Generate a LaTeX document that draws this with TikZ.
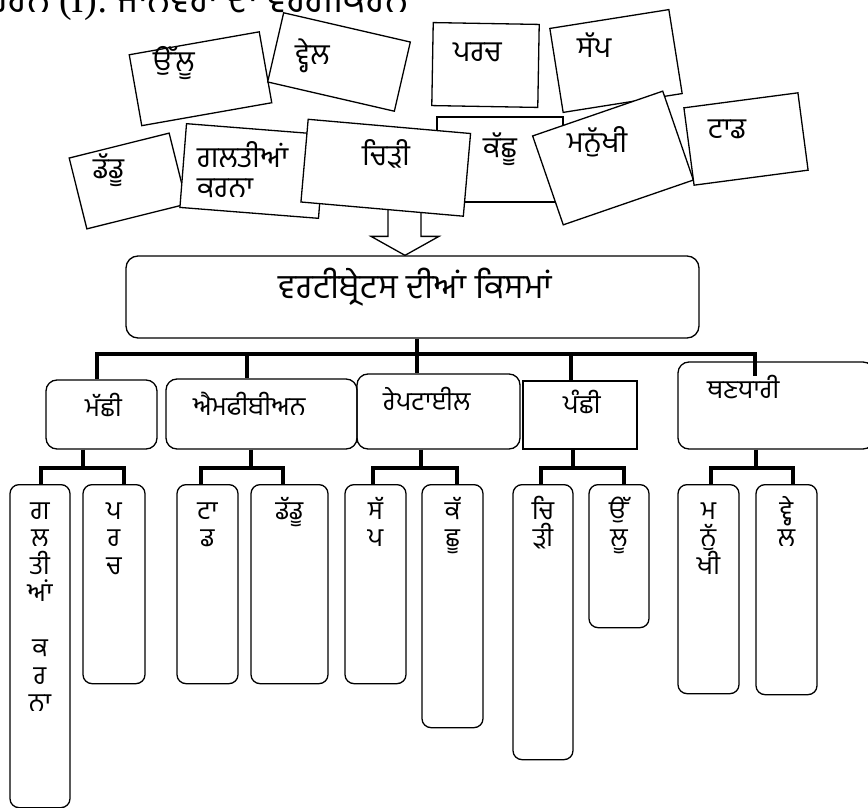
\documentclass[tikz,border=0pt]{standalone}
\usepackage{fontspec}
\setmainfont{Liberation Serif}
\newfontfamily\gurmukhi[Script=Gurmukhi]{Hind Jalandhar}
\usetikzlibrary{calc}

\tikzset{
  card/.style={draw, fill=white, line width=1.3pt, inner sep=0pt, outer sep=0pt},
  word/.style={font=\gurmukhi\fontsize{29}{30}\selectfont, inner sep=0pt, align=left, anchor=base west},
  kind/.style={draw, rounded corners=11pt, line width=1.3pt, inner sep=0pt},
  kindword/.style={word, font=\gurmukhi\fontsize{26}{30}\selectfont},
  leaf/.style={draw, rounded corners=9pt, line width=1.3pt, inner sep=0pt, anchor=north},
  spell/.style={font=\gurmukhi\fontsize{26}{28}\selectfont, inner sep=0pt, anchor=base},
  link/.style={line width=3.5pt},
}

\begin{document}
\begin{tikzpicture}[x=1pt, y=-1pt]
\useasboundingbox (0,0) rectangle (868,808);

% title (cut by the top edge)
\node[anchor=base east, inner sep=0pt, font=\gurmukhi\fontsize{38}{44}\selectfont] (title) at (408,13)
  {ਉਦਾਹਰਨ {\rmfamily (I):} ਜਾਨਵਰਾਂ ਦਾ ਵਰਗੀਕਰਨ};

% main box and block arrow
\node[kind, rounded corners=12pt, minimum width=573pt, minimum height=82pt] (main) at (412.5,297) {};
\node[word, anchor=base, font=\gurmukhi\fontsize{34}{38}\selectfont] (maintext) at (415.5,298) {ਵਰਟੀਬ੍ਰੇਟਸ ਦੀਆਂ ਕਿਸਮਾਂ};
\coordinate (tip) at (main.north -| 405,0);
\draw[line width=1.3pt, fill=white] (tip) -- ++(-34,-19) -- ++(17,0) -- ++(0,-40) -- ++(33,0)
  -- ++(0,40) -- ++(18,0) -- cycle;

% scattered cards
\node[card, rotate=10, minimum width=132pt, minimum height=72pt] (c-owl) at (200.5,78.75) {};
\node[word] (t-owl) at (153,72) {ਉੱਲੂ};
\node[card, rotate=-13, minimum width=130pt, minimum height=71pt] (c-whale) at (339,62) {};
\node[word] (t-whale) at (295,65) {ਵ੍ਹੇਲ};
\node[card, rotate=-1, minimum width=106pt, minimum height=83pt] (c-perch) at (485.5,65) {};
\node[word] (t-perch) at (453,62) {ਪਰਚ};
\node[card, rotate=9, minimum width=120.5pt, minimum height=85pt] (c-snake) at (616,61) {};
\node[word] (t-snake) at (577,58) {ਸੱਪ};
\node[card, rotate=14, minimum width=103pt, minimum height=73pt] (c-frog) at (128,181) {};
\node[word] (t-frog) at (93,178) {ਡੱਡੂ};
\node[card, rotate=-4.5, minimum width=139pt, minimum height=84pt] (c-gk) at (252.5,171) {};
\node[word] (t-gk) at (197,197) {ਗਲਤੀਆਂ\\ਕਰਨਾ};
\node[card, minimum width=126pt, minimum height=85pt] (c-turtle) at (500,159.5) {};
\node[word] (t-turtle) at (483,157) {ਕੱਛੂ};
\node[card, rotate=-5, minimum width=163pt, minimum height=83pt] (c-sparrow) at (385.75,167.75) {};
\node[word] (t-sparrow) at (362,165) {ਚਿੜੀ};
\node[card, rotate=19, minimum width=137.6pt, minimum height=94pt] (c-human) at (613,158) {};
\node[word] (t-human) at (567,152) {ਮਨੁੱਖੀ};
\node[card, rotate=7.5, minimum width=115pt, minimum height=78pt] (c-toad) at (746,139) {};
\node[word] (t-toad) at (708,138) {ਟਾਡ};

% classes
\node[kind, minimum width=111pt, minimum height=69pt] (fish) at (101.5,414.5) {};
\node[kind, minimum width=191pt, minimum height=70pt] (amph) at (261.5,414) {};
\node[kind, minimum width=163pt, minimum height=75pt] (rept) at (438.5,411.5) {};
\node[kind, sharp corners, minimum width=114pt, minimum height=68pt] (bird) at (580,415) {};
\node[kind, minimum width=196pt, minimum height=87pt] (mammal) at (776,405.5) {};
\node[kindword] (t-fish) at (85,416) {ਮੱਛੀ};
\node[kindword] (t-amph) at (193,415) {ਐਮਫੀਬੀਅਨ};
\node[kindword] (t-rept) at (383,410) {ਰੇਪਟਾਈਲ};
\node[kindword] (t-bird) at (563,413) {ਪੰਛੀ};
\node[kindword] (t-mammal) at (707,398) {ਥਣਧਾਰੀ};

% animals, one letter per line
\foreach \n/\x/\w/\b in {gk/40/60/807, perch/114/62/683, toad/207.5/61/683, frog/289.5/77/683,
    snake/375.5/61/683, turtle/452.5/61/727, sparrow/543/60/759, owl/619/60/627,
    human/708.5/61/693, whale/786.5/61/694}
  \node[leaf, minimum width=\w pt, minimum height={(\b-484)*1pt}] (\n) at (\x,484) {};
\foreach \n/\t/\k [evaluate=\k as \y using 519+27.5*\k] in {gk/ਗ/0, gk/ਲ/1, gk/ਤੀ/2, gk/ਆਂ/3,
    gk/ਕ/5, gk/ਰ/6, gk/ਨਾ/7, perch/ਪ/0, perch/ਰ/1, perch/ਚ/2, toad/ਟਾ/0, toad/ਡ/1,
    frog/ਡੱਡੂ/0, snake/ਸੱ/0, snake/ਪ/1, turtle/ਕੱ/0, turtle/ਛੂ/1, sparrow/ਚਿ/0, sparrow/ੜੀ/1,
    owl/ਉੱ/0, owl/ਲੂ/1, human/ਮ/0, human/ਨੁੱ/1, human/ਖੀ/2, whale/ਵ੍ਹੇ/0, whale/ਲ/1}
  \node[spell] at (\n.north |- 0,\y) {\t};

% connectors
\coordinate (hub) at (417,354);
\draw[link] (main.south -| hub) -- (hub);
\draw[link] (fish.north -| 97,0) -- (97,354) -- (755,354) -- ($(mammal.north -| 755,0)+(0,15)$);
\foreach \n/\x in {amph/247, rept/417, bird/571}
  \draw[link] (\x,354) -- (\x,0 |- \n.north);
\foreach \p/\m/\l/\r/\a/\c in {fish/83/41/124/gk/perch, amph/251/201/283/toad/frog,
    rept/421/373/457/snake/turtle, bird/573/541/624/sparrow/owl, mammal/756/711/793/human/whale} {
  \draw[link] (\p.south -| \m,0) -- (\m,468);
  \draw[link] (\l,0 |- \a.north) -- (\l,468) -- (\r,468) -- (\r,0 |- \c.north);
}
\end{tikzpicture}
\end{document}
